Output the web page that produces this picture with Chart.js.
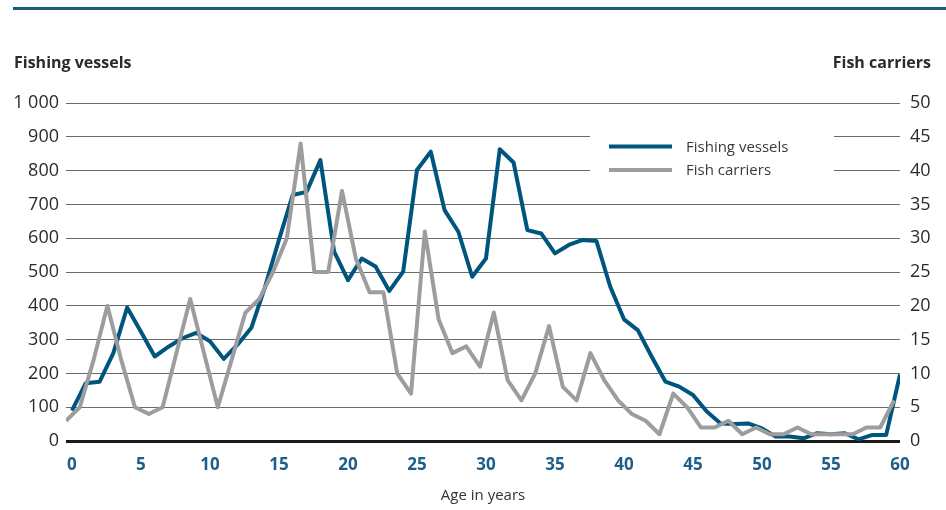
<!DOCTYPE html>
<html>
<head>
<meta charset="utf-8">
<script src="https://cdn.jsdelivr.net/npm/chart.js@4.4.1/dist/chart.umd.min.js"></script>
<style>
html,body{margin:0;padding:0;background:#fff}
#wrap{width:946px;height:510px;position:relative}
</style>
</head>
<body>
<div id="wrap"><canvas id="chart"></canvas></div>
<script>
const ages=[0,1,2,3,4,5,6,7,8,9,10,11,12,13,14,15,16,17,18,19,20,21,22,23,24,25,26,27,28,29,30,31,32,33,34,35,36,37,38,39,40,41,42,43,44,45,46,47,48,49,50,51,52,53,54,55,56,57,58,59,60];
const fishingVessels=[90,171,175,260,395,323,250,279,304,320,295,243,285,335,457,595,728,737,831,560,476,540,516,444,501,802,856,683,619,486,540,863,824,624,614,555,580,595,592,457,360,328,250,176,161,136,87,52,50,52,37,13,13,8,23,20,23,5,18,18,197];
const fishCarriers=[3,5,12,20,12,5,4,5,13,21,13,5,12,19,21,25,30,44,25,25,37,27,22,22,10,7,31,18,13,14,11,19,9,6,10,17,8,6,13,9,6,4,3,1,7,5,2,2,3,1,2,1,1,2,1,1,1,1,2,2,6];
const ageTicks=[0,5,10,15,20,25,30,35,40,45,50,55,60];
const vesselTicks=[0,100,200,300,400,500,600,700,800,900,1000];
const carrierTicks=[0,5,10,15,20,25,30,35,40,45,50];

const BLUE='#00557f', GRAY='#9d9d9f', TEXT='#2b2b2b';
Chart.defaults.font.family='"Open Sans", "Noto Sans", sans-serif';

function fmt(v){return String(v).replace(/\B(?=(\d{3})+(?!\d))/g,' ');}
function setTicks(list){return s=>{s.ticks=list.map(v=>({value:v}));};}

// legend box drawn over the grid, and the two axis headings + top rule
const decor={
  id:'decor',
  beforeDatasetsDraw(chart){
    const ctx=chart.ctx;
    ctx.save();
    ctx.fillStyle='#fff';
    ctx.fillRect(590,122,244,66);
    const ys=[146.5,170];
    chart.data.datasets.forEach((d,i)=>{
      ctx.strokeStyle=d.borderColor;ctx.lineWidth=4;
      ctx.beginPath();ctx.moveTo(609,ys[i]);ctx.lineTo(672,ys[i]);ctx.stroke();
      ctx.fillStyle='#3a3a3a';ctx.font='15px "Open Sans"';
      ctx.textBaseline='middle';ctx.textAlign='left';
      ctx.fillText(d.label,686,ys[i]+1);
    });
    ctx.restore();
  },
  afterDraw(chart){
    const ctx=chart.ctx;
    ctx.save();
    ctx.fillStyle='#1b5b80';
    ctx.fillRect(13,7,933,3);
    ctx.fillStyle=TEXT;ctx.font='bold 16px "Open Sans"';
    ctx.textBaseline='alphabetic';
    ctx.textAlign='left';ctx.fillText('Fishing vessels',14,68);
    ctx.textAlign='right';ctx.fillText('Fish carriers',931,68);
    ctx.restore();
  }
};

new Chart(document.getElementById('chart'),{
  type:'line',
  data:{datasets:[
    {label:'Fishing vessels',data:ages.map((a,i)=>({x:a,y:fishingVessels[i]})),xAxisID:'x',yAxisID:'y',
     borderColor:BLUE,borderWidth:4,borderJoinStyle:'round',pointRadius:0,tension:0,order:1},
    {label:'Fish carriers',data:ages.map((a,i)=>({x:a,y:fishCarriers[i]})),xAxisID:'x2',yAxisID:'y2',
     borderColor:GRAY,borderWidth:4,borderJoinStyle:'round',pointRadius:0,tension:0,order:0}
  ]},
  options:{
    responsive:true,maintainAspectRatio:false,animation:false,
    layout:{padding:{top:103,left:0,right:0,bottom:0}},
    plugins:{legend:{display:false},tooltip:{enabled:false}},
    scales:{
      x:{type:'linear',position:'bottom',min:-0.43,max:60,
        afterBuildTicks:setTicks(ageTicks),
        afterFit:s=>{s.height=69;},
        grid:{display:false,drawTicks:false},border:{display:false},
        ticks:{padding:14,color:'#1d5f8a',font:{size:17,weight:'bold'},maxRotation:0,autoSkip:false},
        title:{display:true,text:'Age in years',color:'#333',font:{size:15},padding:{top:0,bottom:5}}},
      x2:{type:'linear',display:false,min:0,max:60.43},
      y:{position:'left',min:0,max:1000,
        afterBuildTicks:setTicks(vesselTicks),
        afterFit:s=>{s.width=66;},
        grid:{drawTicks:false,color:c=>c.tick&&c.tick.value===0?'#1a1a1a':'#6a6a6a',lineWidth:c=>c.tick&&c.tick.value===0?3:1},
        border:{display:false},
        ticks:{padding:7,color:TEXT,font:{size:18},callback:v=>fmt(v)}},
      y2:{position:'right',min:0,max:50,
        afterBuildTicks:setTicks(carrierTicks),
        afterFit:s=>{s.width=46;},
        grid:{display:false,drawTicks:false},border:{display:false},
        ticks:{padding:10,color:TEXT,font:{size:18}}}
    }
  },
  plugins:[decor]
});
</script>
</body>
</html>
